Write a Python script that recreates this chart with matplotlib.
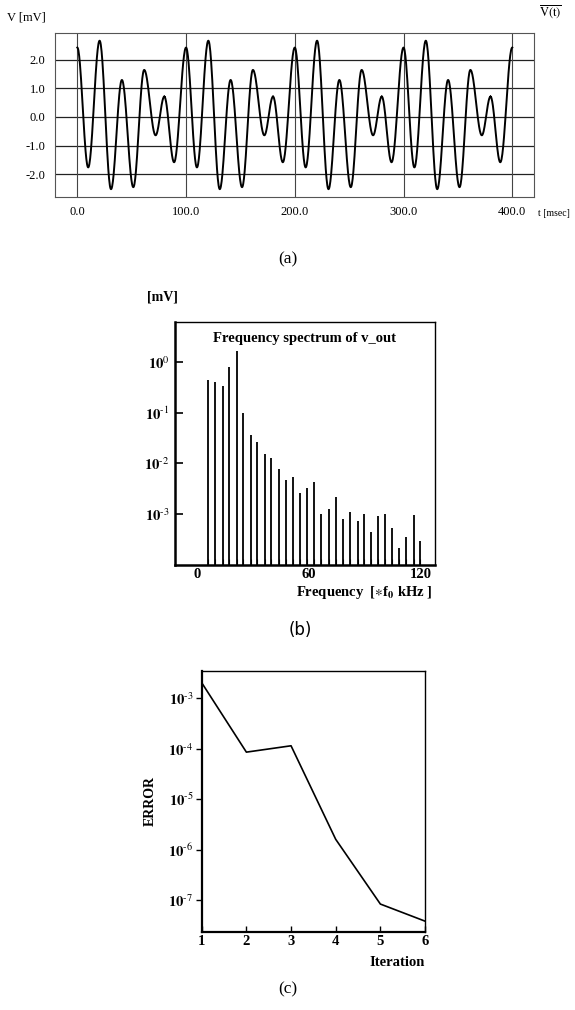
import numpy as np
import matplotlib
matplotlib.use("Agg")
import matplotlib.pyplot as plt

plt.rcParams['font.family'] = ['Liberation Serif', 'DejaVu Serif']
plt.rcParams['mathtext.fontset'] = 'stix'

# (a) waveform: extrema (t in msec, V in mV)
t_ext = [0, 10, 20.5, 31, 41, 51.5, 61.5, 72, 80, 89,
         100, 110, 120.5, 131, 141, 151.5, 161.5, 172, 180, 189,
         200, 210, 220.5, 231, 241, 251.5, 261.5, 272, 280, 289,
         300, 310, 320.5, 331, 341, 351.5, 361.5, 372, 380, 389, 400]
v_ext = [2.42, -1.76, 2.66, -2.52, 1.29, -2.45, 1.64, -0.64, 0.71, -1.58,
         2.42, -1.76, 2.66, -2.52, 1.29, -2.45, 1.64, -0.64, 0.71, -1.58,
         2.42, -1.76, 2.66, -2.52, 1.29, -2.45, 1.64, -0.64, 0.71, -1.58,
         2.42, -1.76, 2.66, -2.52, 1.29, -2.45, 1.64, -0.64, 0.71, -1.58, 2.42]
a_xticks = [0, 100, 200, 300, 400]
a_xlabels = ["0.0", "100.0", "200.0", "300.0", "400.0"]
a_yticks = [2, 1, 0, -1, -2]
a_ylabels = ["2.0", "1.0", "0.0", "-1.0", "-2.0"]

# (b) spectrum lines
freq = [6, 10, 14, 17.5, 21.5, 25, 29, 32.5, 36.5, 40, 44, 47.5, 51.5, 55.5,
        59, 62.5, 66.5, 70.5, 74.5, 78, 82, 86, 89.5, 93, 97, 100.5, 104.5,
        108, 112, 116, 119.5]
amp = [0.45, 0.40, 0.34, 0.80, 1.62, 0.10, 0.037, 0.026, 0.0155, 0.0128,
       0.0078, 0.0048, 0.0055, 0.0026, 0.0033, 0.0043, 0.00103, 0.00128,
       0.0022, 0.00080, 0.00112, 0.00074, 0.00103, 0.00044, 0.00091,
       0.00099, 0.00053, 0.00022, 0.00035, 0.00096, 0.00030]
b_yticks = [1, 0.1, 0.01, 0.001]
b_yexp = ["0", "-1", "-2", "-3"]

# (c) error vs iteration
iteration = [1, 2, 3, 4, 5, 6]
error = [2.05e-3, 8.6e-5, 1.15e-4, 1.6e-6, 8.3e-8, 3.8e-8]
c_yticks = [1e-3, 1e-4, 1e-5, 1e-6, 1e-7]
c_yexp = ["-3", "-4", "-5", "-6", "-7"]


def pow_label(e):
    return r"$\mathbf{10}^{\mathbf{\text{" + e + "}}}$"


fig = plt.figure(figsize=(5.75, 10.10), dpi=100)

# ---------- (a)
ax = fig.add_axes([0.0957, 0.8053, 0.833, 0.1618])
tt = []
vv = []
for i in range(len(t_ext) - 1):
    s = np.linspace(0, 1, 30)
    tt.extend(t_ext[i] + (t_ext[i + 1] - t_ext[i]) * s)
    vv.extend(v_ext[i] + (v_ext[i + 1] - v_ext[i]) * (1 - np.cos(np.pi * s)) / 2)
for y in a_yticks:
    ax.axhline(y, color='#222222', lw=0.9, zorder=1)
for x in a_xticks:
    ax.axvline(x, color='#444444', lw=0.8, zorder=1)
ax.plot(tt, vv, color='black', lw=1.4, zorder=3)
ax.set_xlim(-20.5, 420)
ax.set_ylim(-2.78, 2.92)
ax.set_xticks(a_xticks)
ax.set_xticklabels(a_xlabels, fontsize=9)
ax.set_yticks(a_yticks)
ax.set_yticklabels(a_ylabels, fontsize=9)
ax.tick_params(length=0, pad=7)
for sp in ax.spines.values():
    sp.set_color('#555555')
    sp.set_linewidth(0.8)
fig.text(0.012, 0.983, "V [mV]", fontsize=9, ha='left', va='center')
fig.text(0.937, 0.988, r"$\overline{\mathrm{V(t)}}$", fontsize=9, ha='left', va='center')
fig.text(0.935, 0.789, "t [msec]", fontsize=7, ha='left', va='center')
fig.text(0.5, 0.743, "(a)", fontsize=12.5, ha='center', va='center')

# ---------- (b)
bx = fig.add_axes([0.3043, 0.4406, 0.4522, 0.2409])
bx.vlines(freq, 1e-4, amp, color='black', lw=1.3)
bx.set_yscale('log')
bx.set_xlim(-11.6, 127.4)
bx.set_ylim(1e-4, 6.2)
bx.set_yticks(b_yticks)
bx.set_yticklabels([pow_label(e) for e in b_yexp], fontsize=10.5)
bx.yaxis.set_minor_locator(matplotlib.ticker.NullLocator())
bx.set_xticks([0, 60, 120])
bx.set_xticklabels(["0", "60", "120"], fontsize=10.5, fontweight='bold')
bx.set_xticks(freq, minor=True)
bx.tick_params(axis='x', which='major', length=0, pad=2)
bx.tick_params(axis='x', which='minor', direction='in', length=4, width=0.8)
bx.tick_params(axis='y', direction='in', length=6, width=1.2, pad=4)
bx.spines['left'].set_linewidth(1.8)
bx.spines['bottom'].set_linewidth(1.8)
bx.spines['top'].set_linewidth(1.0)
bx.spines['right'].set_linewidth(1.0)
bx.text(0.5, 0.93, "Frequency spectrum of v_out", transform=bx.transAxes,
        fontsize=10.5, fontweight='bold', ha='center', va='center')
fig.text(0.255, 0.706, "[mV]", fontsize=10, fontweight='bold', ha='left', va='center')
fig.text(0.752, 0.413, r"Frequency  [$\ast$f$_{\mathbf{0}}$ kHz ]", fontsize=10.5,
         fontweight='bold', ha='right', va='center')
fig.text(0.522, 0.376, "(b)", fontsize=12, ha='center', va='center', family='DejaVu Sans')

# ---------- (c)
cx = fig.add_axes([0.3508, 0.0775, 0.3884, 0.2584])
cx.plot(iteration, error, color='black', lw=1.2)
cx.set_yscale('log')
cx.set_xlim(1, 6)
cx.set_ylim(10 ** -7.63, 10 ** -2.45)
cx.set_yticks(c_yticks)
cx.set_yticklabels([pow_label(e) for e in c_yexp], fontsize=10.5)
cx.yaxis.set_minor_locator(matplotlib.ticker.NullLocator())
cx.set_xticks(iteration)
cx.set_xticklabels([str(i) for i in iteration], fontsize=10.5, fontweight='bold')
cx.tick_params(axis='x', direction='in', length=4, width=1.0, pad=2)
cx.tick_params(axis='y', direction='out', length=4, width=1.0, pad=2)
cx.spines['left'].set_linewidth(1.6)
cx.spines['bottom'].set_linewidth(1.6)
cx.spines['top'].set_linewidth(1.0)
cx.spines['right'].set_linewidth(1.0)
cx.set_ylabel("ERROR", fontsize=10, fontweight='bold', labelpad=8)
fig.text(0.739, 0.047, "Iteration", fontsize=10.5, fontweight='bold', ha='right', va='center')
fig.text(0.5, 0.02, "(c)", fontsize=12.5, ha='center', va='center')

fig.savefig("out.png", dpi=100)
